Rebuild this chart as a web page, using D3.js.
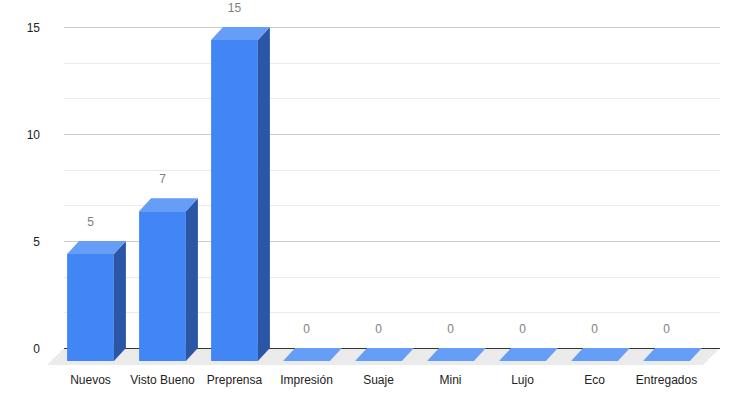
<!DOCTYPE html>
<html><head><meta charset="utf-8">
<script src="https://cdn.jsdelivr.net/npm/d3@7"></script>
<style>body{margin:0;background:#fff}svg{display:block;font-family:"Liberation Sans",Arial,sans-serif}</style>
</head><body>
<svg id="c" width="740" height="406"></svg>
<script>
const categories = ["Nuevos","Visto Bueno","Preprensa","Impresión","Suaje","Mini","Lujo","Eco","Entregados"];
const values = [5,7,15,0,0,0,0,0,0];
const majorTicks = [0,5,10,15];
const minorTicks = [5/3,10/3,20/3,25/3,35/3,40/3];

const svg = d3.select("#c");
const DX = 12, DY = 13;          // bar depth offset (back = front + DX, - DY)
const FD = 17;                   // floor depth
// back plane scales
const y = d3.scaleLinear().domain([0,15]).range([348,27]);
const backLeft = 64, backRight = 720;
// front plane band scale
const x = d3.scaleBand().domain(categories).range([54.5,702.5]).paddingInner(0.35).paddingOuter(0.175);

// floor
svg.append("path")
  .attr("d", `M${backLeft},${y(0)}L${backRight},${y(0)}L${backRight-FD},${y(0)+FD}L${backLeft-FD},${y(0)+FD}Z`)
  .attr("fill","#ebebeb");

// gridlines
svg.append("g").selectAll("line").data(minorTicks).join("line")
  .attr("x1",backLeft).attr("x2",backRight)
  .attr("y1",d=>Math.round(y(d))+0.5).attr("y2",d=>Math.round(y(d))+0.5)
  .attr("stroke","#ebebeb").attr("stroke-width",1);
svg.append("g").selectAll("line").data(majorTicks.filter(d=>d>0)).join("line")
  .attr("x1",backLeft).attr("x2",backRight)
  .attr("y1",d=>Math.round(y(d))+0.5).attr("y2",d=>Math.round(y(d))+0.5)
  .attr("stroke","#cccccc").attr("stroke-width",1);
svg.append("line")
  .attr("x1",backLeft).attr("x2",backRight)
  .attr("y1",Math.round(y(0))+0.5).attr("y2",Math.round(y(0))+0.5)
  .attr("stroke","#333333").attr("stroke-width",1);

// y tick labels
svg.append("g").selectAll("text").data(majorTicks).join("text")
  .attr("x",40).attr("y",d=>y(d)+4.5)
  .attr("text-anchor","end").attr("font-size",12).attr("fill","#222")
  .text(d=>d);

// bars
const bars = svg.append("g").selectAll("g").data(categories).join("g");
bars.each(function(c,i){
  const g = d3.select(this);
  const v = values[i];
  const x0 = x(c), x1 = x(c)+x.bandwidth();
  const fb = y(0)+DY, ft = y(v)+DY; // front bottom / top
  // front face
  if (v>0) g.append("rect").attr("x",x0).attr("y",ft).attr("width",x1-x0).attr("height",fb-ft).attr("fill","#4285f4");
  // side face
  if (v>0) g.append("path").attr("d",`M${x1},${ft}L${x1+DX},${ft-DY}L${x1+DX},${fb-DY}L${x1},${fb}Z`).attr("fill","#2a56a5");
  // top face
  g.append("path").attr("d",`M${x0},${ft}L${x0+DX},${ft-DY}L${x1+DX},${ft-DY}L${x1},${ft}Z`).attr("fill","#669df6");
  // value label
  g.append("text").attr("x",(x0+x1)/2).attr("y",y(v)-15)
    .attr("text-anchor","middle").attr("font-size",12).attr("fill","#808080").text(v);
});

// x labels
svg.append("g").selectAll("text").data(categories).join("text")
  .attr("x",d=>x(d)+x.bandwidth()/2).attr("y",383.5)
  .attr("text-anchor","middle").attr("font-size",12).attr("fill","#222").text(d=>d);
</script>
</body></html>
